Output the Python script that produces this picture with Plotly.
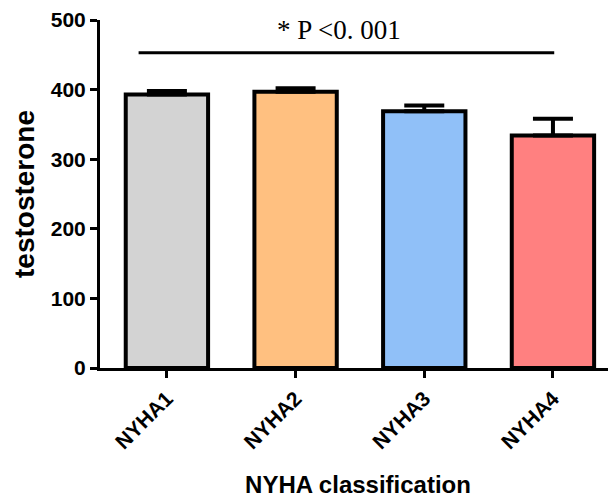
import plotly.graph_objects as go

categories = ["NYHA1", "NYHA2", "NYHA3", "NYHA4"]
means = [393, 397, 369, 334]
errors = [5, 5, 8, 24]
colors = ["#D3D3D3", "#FFC080", "#90C0F8", "#FF8080"]
y_ticks = [0, 100, 200, 300, 400, 500]
sig_text = "* P <0. 001"
sig_y = 453

fig = go.Figure()
fig.add_trace(go.Bar(
    x=list(range(len(categories))),
    y=means,
    width=0.64,
    marker=dict(color=colors, line=dict(color="black", width=4)),
    error_y=dict(type="data", array=errors, arrayminus=[0]*len(errors),
                 symmetric=False, color="black", thickness=4, width=20),
    showlegend=False,
))

fig.add_shape(type="line", x0=-0.22, x1=3.01, y0=sig_y, y1=sig_y,
              xref="x", yref="y", line=dict(color="black", width=3))
fig.add_annotation(x=1.34, y=sig_y, yshift=6, yanchor="bottom", xref="x", yref="y",
                   text=sig_text, showarrow=False,
                   font=dict(family="Liberation Serif, DejaVu Serif, serif", size=27, color="black"))

font_b = dict(family="Arial, Liberation Sans, sans-serif", color="black", weight="bold")

# page body has an 8px margin, so the figure is sized/offset to compensate
fig.update_layout(
    width=608, height=490,
    margin=dict(l=92, r=0, t=12, b=130, autoexpand=False),
    plot_bgcolor="white", paper_bgcolor="white",
    xaxis=dict(
        range=[-0.52, 3.49], automargin=False,
        tickmode="array", tickvals=list(range(len(categories))), ticktext=categories,
        tickangle=-45,
        tickfont=dict(size=21, **font_b),
        showline=True, linecolor="black", linewidth=3,
        ticks="outside", ticklen=7, tickwidth=3, tickcolor="black",
        showgrid=False, zeroline=False,
        title=dict(text="NYHA classification", font=dict(size=24, **font_b), standoff=24),
    ),
    yaxis=dict(
        range=[0, 500], automargin=False,
        tickmode="array", tickvals=y_ticks,
        tickfont=dict(size=21, **font_b),
        showline=True, linecolor="black", linewidth=3,
        ticks="outside", ticklen=7, tickwidth=3, tickcolor="black",
        showgrid=False, zeroline=False,
        title=dict(text="testosterone", font=dict(size=28, **font_b), standoff=8),
    ),
)

fig.write_html("out.html")
